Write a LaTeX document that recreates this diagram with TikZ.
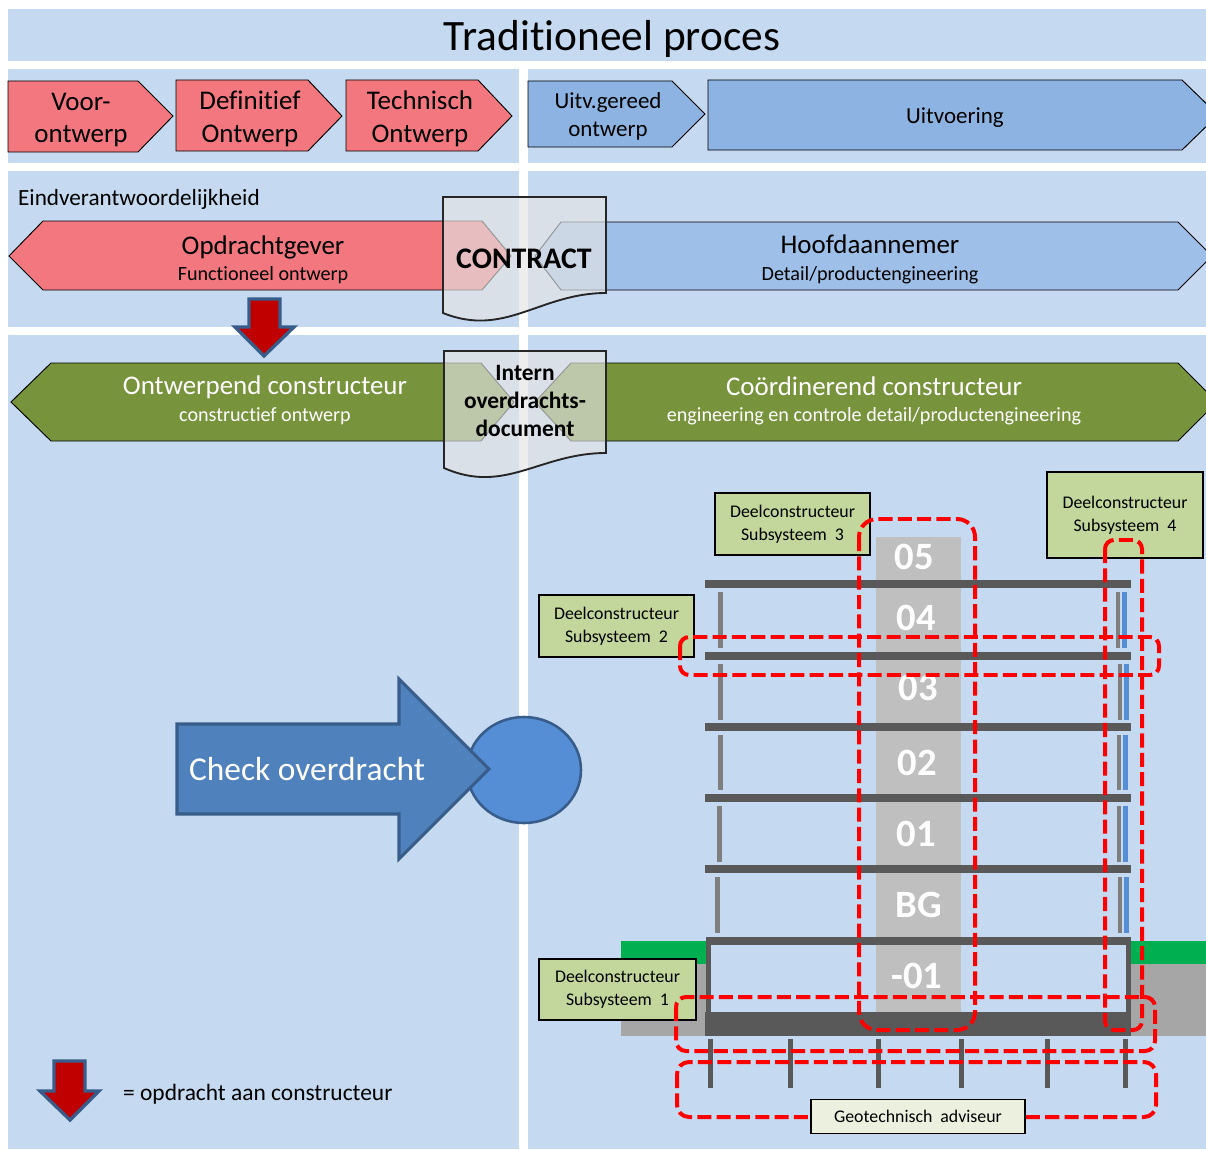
\documentclass[tikz,border=0pt]{standalone}
\usepackage{fontspec}
\setmainfont{Carlito}[Ligatures=NoCommon]
\usepackage{tikz}

\definecolor{panelblue}{HTML}{C5D9F1}
\definecolor{phasered}{HTML}{F2777F}
\definecolor{phaseblue}{HTML}{8DB3E2}
\definecolor{lightblue}{HTML}{9DBFE8}
\definecolor{mossgreen}{HTML}{77933C}
\definecolor{subgreen}{HTML}{C3D69B}
\definecolor{geogreen}{HTML}{EBF1DE}
\definecolor{coregrey}{HTML}{BFBFBF}
\definecolor{floorgrey}{HTML}{595959}
\definecolor{columngrey}{HTML}{7F7F7F}
\definecolor{soilgrey}{HTML}{A6A6A6}
\definecolor{grassgreen}{HTML}{00B050}
\definecolor{glassblue}{HTML}{558ED5}
\definecolor{edgeblue}{HTML}{385D8A}
\definecolor{bigblue}{HTML}{4F81BD}
\definecolor{orderred}{HTML}{C00000}
\definecolor{papergrey}{HTML}{E4E4E4}

\tikzset{
  panel/.style={fill=panelblue},
  phase/.style={draw=black, line width=0.8pt},
  paper/.style={draw=black!85, line width=1.6pt, fill=papergrey, fill opacity=0.65},
  orderarrow/.style={draw=edgeblue, line width=2.8pt, fill=orderred, miter limit=4},
  subbox/.style={draw=black, line width=1.2pt, fill=subgreen, align=center, inner sep=0pt,
    font=\fontsize{15.2}{20}\selectfont},
  scopebox/.style={draw=red, line width=3.4pt, dash pattern=on 12pt off 4.5pt},
  floornum/.style={text=white, font=\fontsize{33}{33}\selectfont\bfseries},
  column/.style={fill=columngrey},
  glass/.style={fill=glassblue}
}

\begin{document}
\begin{tikzpicture}[x=0.03cm, y=-0.03cm]
  \clip (0,0) rectangle (1206,1149);

  % Panels
  \fill[panel] (8,9) rectangle (1206,61);
  \fill[panel] (8,69) rectangle (519,163);
  \fill[panel] (528,69) rectangle (1206,163);
  \fill[panel] (8,171) rectangle (519,327);
  \fill[panel] (528,171) rectangle (1206,327);
  \fill[panel] (8,335) rectangle (519,1149);
  \fill[panel] (528,335) rectangle (1206,1149);
  \node (title) at (612,38.5) {\fontsize{37}{37}\selectfont Traditioneel proces};

  % Phases
  \draw[phase, fill=phasered] (8,81) -- (138,81) -- (173,116) -- (138,152) -- (8,152) -- cycle;
  \draw[phase, fill=phasered] (176,80) -- (308,80) -- (342,116) -- (308,151) -- (176,151) -- cycle;
  \draw[phase, fill=phasered] (346,80) -- (478,80) -- (512,116) -- (478,151) -- (346,151) -- cycle;
  \draw[phase, fill=phaseblue] (528,81) -- (672,81) -- (705,114) -- (672,147) -- (528,147) -- cycle;
  \draw[phase, fill=phaseblue] (708,80) -- (1182,80) -- (1218,115) -- (1182,150) -- (708,150) -- cycle;
  \node[align=center, font=\fontsize{23}{28}\selectfont] (voor) at (81,120) {Voor-\\ontwerp};
  \node[align=center, font=\fontsize{23}{28}\selectfont] (definitief) at (250,119) {Definitief\\Ontwerp};
  \node[align=center, font=\fontsize{23}{28}\selectfont] (technisch) at (420,119) {Technisch\\Ontwerp};
  \node[align=center, font=\fontsize{19.6}{24}\selectfont] (gereed) at (608,116) {Uitv.gereed\\ontwerp};
  \node[font=\fontsize{19.6}{24}\selectfont] (uitvoering) at (955,118) {Uitvoering};

  % Responsibility
  \node[anchor=west, font=\fontsize{19.8}{24}\selectfont] (eind) at (14,199) {Eindverantwoordelijkheid};
  \draw[phase, fill=phasered] (9,256) -- (43,221) -- (482,221) -- (511,256) -- (482,290) -- (43,290) -- cycle;
  \draw[phase, fill=lightblue] (535,256) -- (561,222) -- (1178,222) -- (1212,256) -- (1178,290) -- (561,290) -- cycle;
  \node[align=center, font=\fontsize{17.2}{20}\selectfont] (opdracht) at (263,259.5)
    {{\fontsize{23}{28}\selectfont Opdrachtgever}\\[2.5pt]Functioneel ontwerp};
  \node[align=center, font=\fontsize{17.2}{20}\selectfont] (hoofd) at (870,259.5)
    {{\fontsize{23}{28}\selectfont Hoofdaannemer}\\[2.5pt]Detail/productengineering};
  \draw[paper] (443,197) -- (606,197) -- (606,293) .. controls (540,293) and (505,338) .. (443,313) -- cycle;
  \node[font=\fontsize{25.5}{25.5}\selectfont\bfseries] (contract) at (524,259) {CONTRACT};

  % Designer and coordinator
  \draw[phase, fill=mossgreen] (11,402) -- (51,363) -- (481,363) -- (514,402) -- (481,441) -- (51,441) -- cycle;
  \draw[phase, fill=mossgreen] (535,402) -- (571,363) -- (1178,363) -- (1217,402) -- (1178,441) -- (571,441) -- cycle;
  \node[text=white, align=center, font=\fontsize{17.2}{20}\selectfont] (ontwerpend) at (265,400.5)
    {{\fontsize{23}{28}\selectfont Ontwerpend constructeur}\\[3pt]constructief ontwerp};
  \node[text=white, align=center, font=\fontsize{17.2}{20}\selectfont] (coordinerend) at (874,401)
    {{\fontsize{23}{28}\selectfont Coördinerend constructeur}\\[2.5pt]engineering en controle detail/productengineering};
  \draw[paper] (444,351) -- (606,351) -- (606,453) .. controls (540,453) and (505,495) .. (444,468) -- cycle;
  \node[align=center, font=\fontsize{20}{24}\selectfont\bfseries] (intern) at (525,401) {Intern\\overdrachts-\\document};

  % Order arrow
  \draw[orderarrow] (249,299) -- (280,299) -- (280,327) -- (294,327) -- (264,356) -- (235,327) -- (249,327) -- cycle;

  % Check
  \draw[draw=edgeblue, line width=2.2pt, fill=glassblue] (524,770) ellipse (57 and 53);
  \draw[draw=edgeblue, line width=2.6pt, fill=bigblue] (177,724) -- (399,724) -- (399,679) -- (489,769) -- (399,859) -- (399,814) -- (177,814) -- cycle;
  \node[text=white, anchor=west, font=\fontsize{28.5}{28}\selectfont] (check) at (185,769.5) {Check overdracht};

  % Legend
  \draw[orderarrow] (54,1061) -- (85,1061) -- (85,1091) -- (99,1091) -- (70,1120) -- (40,1091) -- (54,1091) -- cycle;
  \node[anchor=west, font=\fontsize{20}{24}\selectfont] (legend) at (119,1094) {= opdracht aan constructeur};

  % Ground
  \fill[grassgreen] (621,941) rectangle (706,964);
  \fill[grassgreen] (1131,941) rectangle (1206,964);
  \fill[soilgrey] (621,964) rectangle (706,1036);
  \fill[soilgrey] (1131,964) rectangle (1206,1036);

  % Core and building
  \fill[coregrey] (876,537) rectangle (961,1012);
  \foreach \fy in {584,656,727,798,869} {
    \fill[floorgrey] (705,\fy-4) rectangle (1131,\fy+4);
  }
  \fill[floorgrey] (706,937) rectangle (1131,945);
  \fill[floorgrey] (706,945) rectangle (711,1012);
  \fill[floorgrey] (1126,945) rectangle (1131,1012);
  \fill[floorgrey] (705,1012) rectangle (1131,1036);
  \foreach \ya/\yb/\cx/\rx in {592/648/720/1118, 664/720/720/1120, 735/790/720/1119, 806/862/719/1119, 877/933/717/1120} {
    \fill[column] (\cx-2.5,\ya) rectangle (\cx+2.5,\yb);
    \fill[column] (\rx-2.3,\ya) rectangle (\rx+2.3,\yb);
    \fill[glass] (\rx+4,\ya) rectangle (\rx+8.7,\yb);
  }
  \foreach \px in {710,790,878,961,1047,1125} {
    \fill[floorgrey] (\px-2.5,1039) rectangle (\px+2.5,1088);
  }
  \node[floornum] (f5) at (914,557) {05};
  \node[floornum] (f4) at (916,618) {04};
  \node[floornum] (f3) at (918,688) {03};
  \node[floornum] (f2) at (917,763) {02};
  \node[floornum] (f1) at (916,834) {01};
  \node[floornum] (bg) at (919,905) {BG};
  \node[floornum] (fm1) at (917,976) {-01};

  % Subsystems
  \node[subbox, minimum width=4.65cm, minimum height=1.86cm] (sub3) at (792.5,524) {Deelconstructeur\\Subsysteem\ \ 3};
  \node[subbox, minimum width=4.68cm, minimum height=2.58cm] (sub4) at (1125,515) {Deelconstructeur\\Subsysteem\ \ 4};
  \node[subbox, minimum width=4.65cm, minimum height=1.86cm] (sub2) at (616.5,626) {Deelconstructeur\\Subsysteem\ \ 2};
  \node[subbox, minimum width=4.71cm, minimum height=1.83cm] (sub1) at (617.5,989.5) {Deelconstructeur\\Subsysteem\ \ 1};

  % Scopes
  \draw[scopebox, rounded corners=0.54cm] (859,519) rectangle (975,1030);
  \draw[scopebox, rounded corners=0.27cm] (1105,540) rectangle (1142,1030);
  \draw[scopebox, rounded corners=0.27cm] (680,637) rectangle (1159,675);
  \draw[scopebox, rounded corners=0.3cm] (676,997) rectangle (1155,1051);
  \draw[scopebox, rounded corners=0.36cm] (677,1062) rectangle (1156,1117);

  \node[subbox, fill=geogreen, minimum width=6.42cm, minimum height=1.02cm] (geo) at (918,1116.5) {Geotechnisch\ \ adviseur};
\end{tikzpicture}
\end{document}
